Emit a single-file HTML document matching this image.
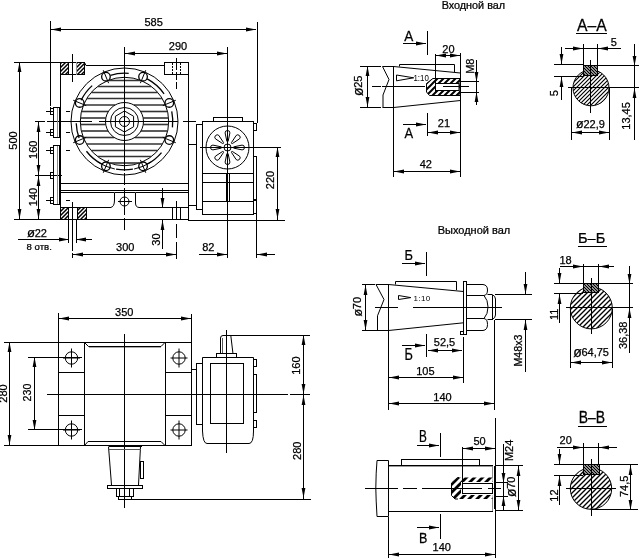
<!DOCTYPE html>
<html><head><meta charset="utf-8"><style>
html,body{margin:0;padding:0;background:#fff;width:639px;height:558px;overflow:hidden}
svg{display:block}
text{font-family:"Liberation Sans",sans-serif;fill:#000;stroke:#000;stroke-width:0.25px;-webkit-font-smoothing:antialiased}
svg{will-change:transform}
</style></head><body>
<svg width="639" height="558" viewBox="0 0 639 558">
<defs>
<pattern id="hF" patternUnits="userSpaceOnUse" width="4" height="4"><rect width="4" height="4" fill="#fff"/><path d="M0,4 L4,0 M-1,1 L1,-1 M3,5 L5,3" stroke="#000" stroke-width="1.5"/></pattern>
<pattern id="hC" patternUnits="userSpaceOnUse" width="4" height="4"><rect width="4" height="4" fill="#fff"/><path d="M0,4 L4,0 M-1,1 L1,-1 M3,5 L5,3" stroke="#000" stroke-width="1.15"/></pattern>
<pattern id="hC5" patternUnits="userSpaceOnUse" width="5" height="5"><rect width="5" height="5" fill="#fff"/><path d="M0,5 L5,0 M-1,1 L1,-1 M4,6 L6,4" stroke="#000" stroke-width="1.35"/></pattern>
<pattern id="hK" patternUnits="userSpaceOnUse" width="3" height="3"><rect width="3" height="3" fill="#fff"/><path d="M0,0 L3,3 M-1,2 L1,4 M2,-1 L4,1" stroke="#000" stroke-width="1.3"/></pattern>
<pattern id="hT" patternUnits="userSpaceOnUse" width="6" height="6"><rect width="6" height="6" fill="#fff"/><path d="M0,6 L6,0 M-1,1 L1,-1 M5,7 L7,5" stroke="#000" stroke-width="2.0"/></pattern>
<pattern id="hT2" patternUnits="userSpaceOnUse" width="8" height="8"><rect width="8" height="8" fill="#fff"/><path d="M0,8 L8,0 M-1,1 L1,-1 M7,9 L9,7" stroke="#000" stroke-width="2.8"/></pattern>
<clipPath id="cA"><circle cx="591" cy="87.8" r="18"/></clipPath>
<clipPath id="cB"><circle cx="591.3" cy="307.9" r="21"/></clipPath>
<clipPath id="cC"><circle cx="591" cy="488.6" r="20.7"/></clipPath>
</defs>
<rect width="639" height="558" fill="#fff"/>
<line x1="50.5" y1="21" x2="50.5" y2="106" stroke="#000" stroke-width="1" stroke-linecap="butt"/>
<line x1="50.5" y1="107" x2="50.5" y2="115" stroke="#000" stroke-width="1" stroke-linecap="butt"/>
<line x1="257.5" y1="22" x2="257.5" y2="123" stroke="#000" stroke-width="1" stroke-linecap="butt"/>
<line x1="51" y1="29.5" x2="256" y2="29.5" stroke="#000" stroke-width="1" stroke-linecap="butt"/>
<polygon points="51,29.5 61,27.6 61,31.4" fill="#000"/>
<polygon points="256,29.5 246,27.6 246,31.4" fill="#000"/>
<text transform="translate(144.44,26) scale(1.000,1)" font-size="11.00">585</text>
<line x1="124.5" y1="47" x2="124.5" y2="59" stroke="#000" stroke-width="1" stroke-linecap="butt"/>
<line x1="227.5" y1="47" x2="227.5" y2="117" stroke="#000" stroke-width="1" stroke-linecap="butt"/>
<line x1="125" y1="53.5" x2="228" y2="53.5" stroke="#000" stroke-width="1" stroke-linecap="butt"/>
<polygon points="125,53.5 135,51.6 135,55.4" fill="#000"/>
<polygon points="227,53.5 217,51.6 217,55.4" fill="#000"/>
<text transform="translate(168.76,50) scale(1.000,1)" font-size="11.00">290</text>
<line x1="14" y1="62.5" x2="60" y2="62.5" stroke="#000" stroke-width="1" stroke-linecap="butt"/>
<line x1="19.5" y1="62" x2="19.5" y2="220" stroke="#000" stroke-width="1" stroke-linecap="butt"/>
<polygon points="19.5,62 17.6,72 21.4,72" fill="#000"/>
<polygon points="19.5,219 17.6,209 21.4,209" fill="#000"/>
<text transform="translate(16.6,149.74) rotate(-90) scale(1.000,1)" font-size="11.00">500</text>
<line x1="14" y1="219.5" x2="189" y2="219.5" stroke="#000" stroke-width="1" stroke-linecap="butt"/>
<line x1="188" y1="220.5" x2="285" y2="220.5" stroke="#000" stroke-width="1" stroke-linecap="butt"/>
<line x1="38.5" y1="121" x2="38.5" y2="220" stroke="#000" stroke-width="1" stroke-linecap="butt"/>
<polygon points="38.5,122 36.6,132 40.4,132" fill="#000"/>
<polygon points="38.5,175 36.6,165 40.4,165" fill="#000"/>
<polygon points="38.5,176 36.6,186 40.4,186" fill="#000"/>
<polygon points="38.5,219 36.6,209 40.4,209" fill="#000"/>
<line x1="35" y1="175.5" x2="62" y2="175.5" stroke="#000" stroke-width="1" stroke-linecap="butt"/>
<text transform="translate(37.2,158.98) rotate(-90) scale(1.000,1)" font-size="11.00">160</text>
<text transform="translate(37.2,206.23) rotate(-90) scale(1.000,1)" font-size="11.00">140</text>
<line x1="35" y1="121.5" x2="45" y2="121.5" stroke="#000" stroke-width="1" stroke-linecap="butt"/>
<line x1="47" y1="121.5" x2="92" y2="121.5" stroke="#000" stroke-width="1" stroke-linecap="butt"/>
<line x1="99" y1="121.5" x2="178" y2="121.5" stroke="#000" stroke-width="1" stroke-linecap="butt"/>
<line x1="183" y1="121.5" x2="196" y2="121.5" stroke="#000" stroke-width="1" stroke-linecap="butt"/>
<line x1="124.5" y1="47" x2="124.5" y2="171" stroke="#000" stroke-width="1" stroke-linecap="butt"/>
<line x1="124.5" y1="173" x2="124.5" y2="230" stroke="#000" stroke-width="1" stroke-dasharray="12 3" stroke-linecap="butt"/>
<rect x="60" y="62" width="9" height="13" fill="url(#hF)"/>
<rect x="76" y="62" width="9" height="13" fill="url(#hF)"/>
<rect x="60.5" y="62.5" width="24" height="12" fill="none" stroke="#000" stroke-width="1"/>
<line x1="68.5" y1="62" x2="68.5" y2="75" stroke="#000" stroke-width="1" stroke-linecap="butt"/>
<line x1="76.5" y1="62" x2="76.5" y2="75" stroke="#000" stroke-width="1" stroke-linecap="butt"/>
<rect x="69" y="63" width="7" height="11" fill="#fff"/>
<line x1="68.5" y1="62" x2="68.5" y2="75" stroke="#000" stroke-width="1" stroke-linecap="butt"/>
<line x1="76.5" y1="62" x2="76.5" y2="75" stroke="#999" stroke-width="1" stroke-linecap="butt"/>
<line x1="72.5" y1="54" x2="72.5" y2="82" stroke="#000" stroke-width="1" stroke-linecap="butt"/>
<line x1="60.5" y1="62" x2="60.5" y2="208" stroke="#000" stroke-width="1" stroke-linecap="butt"/>
<path d="M84.5,62.5 L86,65.5" fill="none" stroke="#000" stroke-width="1" />
<line x1="86" y1="65.5" x2="164" y2="65.5" stroke="#000" stroke-width="1" stroke-linecap="butt"/>
<rect x="164.5" y="62.5" width="24" height="12" fill="none" stroke="#000" stroke-width="1"/>
<line x1="172.5" y1="63" x2="172.5" y2="74" stroke="#000" stroke-width="1" stroke-dasharray="2 1" stroke-linecap="butt"/>
<line x1="180.5" y1="63" x2="180.5" y2="74" stroke="#000" stroke-width="1" stroke-dasharray="2 1" stroke-linecap="butt"/>
<line x1="176.5" y1="58" x2="176.5" y2="70" stroke="#000" stroke-width="1" stroke-linecap="butt"/>
<line x1="176.5" y1="72" x2="176.5" y2="80" stroke="#000" stroke-width="1" stroke-linecap="butt"/>
<line x1="176.5" y1="82" x2="176.5" y2="89" stroke="#000" stroke-width="1" stroke-linecap="butt"/>
<line x1="188.5" y1="74" x2="188.5" y2="221" stroke="#000" stroke-width="1" stroke-linecap="butt"/>
<circle cx="124.5" cy="121.5" r="53.5" fill="none" stroke="#000" stroke-width="1"/>
<circle cx="124.5" cy="121.5" r="44.2" fill="none" stroke="#000" stroke-width="1"/>
<line x1="108.53" y1="80.5" x2="140.47" y2="80.5" stroke="#333" stroke-width="1.6" stroke-linecap="butt"/>
<line x1="97.84" y1="86.5" x2="151.16" y2="86.5" stroke="#333" stroke-width="1.6" stroke-linecap="butt"/>
<line x1="91.41" y1="92.5" x2="157.59" y2="92.5" stroke="#333" stroke-width="1.6" stroke-linecap="butt"/>
<line x1="86.99" y1="98.5" x2="162.01" y2="98.5" stroke="#333" stroke-width="1.6" stroke-linecap="butt"/>
<line x1="83.71" y1="105" x2="115.08" y2="105" stroke="#333" stroke-width="1.6" stroke-linecap="butt"/>
<line x1="133.92" y1="105" x2="165.29" y2="105" stroke="#333" stroke-width="1.6" stroke-linecap="butt"/>
<line x1="81.65" y1="111.5" x2="108.34" y2="111.5" stroke="#333" stroke-width="1.6" stroke-linecap="butt"/>
<line x1="140.66" y1="111.5" x2="167.35" y2="111.5" stroke="#333" stroke-width="1.6" stroke-linecap="butt"/>
<line x1="80.64" y1="118" x2="105.83" y2="118" stroke="#333" stroke-width="1.6" stroke-linecap="butt"/>
<line x1="143.17" y1="118" x2="168.36" y2="118" stroke="#333" stroke-width="1.6" stroke-linecap="butt"/>
<line x1="80.6" y1="124.5" x2="105.74" y2="124.5" stroke="#333" stroke-width="1.6" stroke-linecap="butt"/>
<line x1="143.26" y1="124.5" x2="168.4" y2="124.5" stroke="#333" stroke-width="1.6" stroke-linecap="butt"/>
<line x1="81.54" y1="131" x2="108.05" y2="131" stroke="#333" stroke-width="1.6" stroke-linecap="butt"/>
<line x1="140.95" y1="131" x2="167.46" y2="131" stroke="#333" stroke-width="1.6" stroke-linecap="butt"/>
<line x1="83.51" y1="137.5" x2="114.25" y2="137.5" stroke="#333" stroke-width="1.6" stroke-linecap="butt"/>
<line x1="134.75" y1="137.5" x2="165.49" y2="137.5" stroke="#333" stroke-width="1.6" stroke-linecap="butt"/>
<line x1="86.69" y1="144" x2="162.31" y2="144" stroke="#333" stroke-width="1.6" stroke-linecap="butt"/>
<line x1="91.41" y1="150.5" x2="157.59" y2="150.5" stroke="#333" stroke-width="1.6" stroke-linecap="butt"/>
<line x1="97.84" y1="156.5" x2="151.16" y2="156.5" stroke="#333" stroke-width="1.6" stroke-linecap="butt"/>
<line x1="109.88" y1="163" x2="139.12" y2="163" stroke="#333" stroke-width="1.6" stroke-linecap="butt"/>
<circle cx="143.06" cy="76.69" r="4.3" fill="#fff" stroke="#000" stroke-width="1.3"/>
<line x1="140.38" y1="83.16" x2="145.74" y2="70.22" stroke="#000" stroke-width="1" stroke-linecap="butt"/>
<circle cx="169.31" cy="102.94" r="4.3" fill="#fff" stroke="#000" stroke-width="1.3"/>
<line x1="162.84" y1="105.62" x2="175.78" y2="100.26" stroke="#000" stroke-width="1" stroke-linecap="butt"/>
<circle cx="169.31" cy="140.06" r="4.3" fill="#fff" stroke="#000" stroke-width="1.3"/>
<line x1="162.84" y1="137.38" x2="175.78" y2="142.74" stroke="#000" stroke-width="1" stroke-linecap="butt"/>
<circle cx="143.06" cy="166.31" r="4.3" fill="#fff" stroke="#000" stroke-width="1.3"/>
<line x1="140.38" y1="159.84" x2="145.74" y2="172.78" stroke="#000" stroke-width="1" stroke-linecap="butt"/>
<path d="M151.27,161.94 A48.5,48.5 0 0 1 134.17,169.03" fill="none" stroke="#000" stroke-width="1" />
<circle cx="105.94" cy="166.31" r="4.3" fill="#fff" stroke="#000" stroke-width="1.3"/>
<line x1="108.62" y1="159.84" x2="103.26" y2="172.78" stroke="#000" stroke-width="1" stroke-linecap="butt"/>
<path d="M114.83,169.03 A48.5,48.5 0 0 1 97.73,161.94" fill="none" stroke="#000" stroke-width="1" />
<circle cx="79.69" cy="140.06" r="4.3" fill="#fff" stroke="#000" stroke-width="1.3"/>
<line x1="86.16" y1="137.38" x2="73.22" y2="142.74" stroke="#000" stroke-width="1" stroke-linecap="butt"/>
<circle cx="79.69" cy="102.94" r="4.3" fill="#fff" stroke="#000" stroke-width="1.3"/>
<line x1="86.16" y1="105.62" x2="73.22" y2="100.26" stroke="#000" stroke-width="1" stroke-linecap="butt"/>
<circle cx="105.94" cy="76.69" r="4.3" fill="#fff" stroke="#000" stroke-width="1.3"/>
<line x1="108.62" y1="83.16" x2="103.26" y2="70.22" stroke="#000" stroke-width="1" stroke-linecap="butt"/>
<path d="M110.38,75.31 A48.3,48.3 0 0 1 128.71,73.38" fill="none" stroke="#000" stroke-width="1.3" />
<path d="M147.18,78.85 A48.3,48.3 0 0 1 164.07,93.8" fill="none" stroke="#000" stroke-width="1.3" />
<path d="M171.74,111.46 A48.3,48.3 0 0 1 172.44,127.39" fill="none" stroke="#000" stroke-width="1.3" />
<path d="M161.5,152.55 A48.3,48.3 0 0 1 147.18,164.15" fill="none" stroke="#000" stroke-width="1.3" />
<path d="M132.89,169.07 A48.3,48.3 0 0 1 116.11,169.07" fill="none" stroke="#000" stroke-width="1.3" />
<path d="M101.82,164.15 A48.3,48.3 0 0 1 86.44,151.24" fill="none" stroke="#000" stroke-width="1.3" />
<path d="M79.11,138.02 A48.3,48.3 0 0 1 76.23,123.19" fill="none" stroke="#000" stroke-width="1.3" />
<path d="M81.09,100.33 A48.3,48.3 0 0 1 92.18,85.61" fill="none" stroke="#000" stroke-width="1.3" />
<circle cx="124.5" cy="121.5" r="19" fill="#fff" stroke="#000" stroke-width="1"/>
<circle cx="124.5" cy="121.5" r="14" fill="none" stroke="#000" stroke-width="1"/>
<path d="M124.5,111 L133.59,116.25 L133.59,126.75 L124.5,132 L115.41,126.75 L115.41,116.25 Z" fill="none" stroke="#000" stroke-width="1" />
<circle cx="124.5" cy="121.5" r="5" fill="none" stroke="#000" stroke-width="1"/>
<line x1="124.5" y1="47" x2="124.5" y2="171" stroke="#000" stroke-width="1" stroke-linecap="butt"/>
<line x1="99" y1="121.5" x2="178" y2="121.5" stroke="#000" stroke-width="1" stroke-linecap="butt"/>
<rect x="53.5" y="107.5" width="6" height="30" fill="none" stroke="#000" stroke-width="1"/>
<rect x="53.5" y="145.5" width="6" height="59" fill="none" stroke="#000" stroke-width="1"/>
<line x1="57.5" y1="108" x2="57.5" y2="137" stroke="#888" stroke-width="1" stroke-linecap="butt"/>
<line x1="57.5" y1="146" x2="57.5" y2="204" stroke="#888" stroke-width="1" stroke-linecap="butt"/>
<line x1="46" y1="111.5" x2="54" y2="111.5" stroke="#000" stroke-width="1" stroke-linecap="butt"/>
<rect x="50.5" y="108.5" width="3" height="6" fill="none" stroke="#000" stroke-width="1"/>
<line x1="46" y1="132.5" x2="54" y2="132.5" stroke="#000" stroke-width="1" stroke-linecap="butt"/>
<rect x="50.5" y="129.5" width="3" height="6" fill="none" stroke="#000" stroke-width="1"/>
<line x1="46" y1="150.5" x2="54" y2="150.5" stroke="#000" stroke-width="1" stroke-linecap="butt"/>
<rect x="50.5" y="147.5" width="3" height="6" fill="none" stroke="#000" stroke-width="1"/>
<rect x="50.5" y="172.5" width="3" height="6" fill="none" stroke="#000" stroke-width="1"/>
<line x1="46" y1="200.5" x2="54" y2="200.5" stroke="#000" stroke-width="1" stroke-linecap="butt"/>
<rect x="50.5" y="197.5" width="3" height="6" fill="none" stroke="#000" stroke-width="1"/>
<line x1="66" y1="111.5" x2="70" y2="111.5" stroke="#000" stroke-width="1" stroke-linecap="butt"/>
<line x1="66" y1="132.5" x2="70" y2="132.5" stroke="#000" stroke-width="1" stroke-linecap="butt"/>
<line x1="66" y1="150.5" x2="70" y2="150.5" stroke="#000" stroke-width="1" stroke-linecap="butt"/>
<line x1="66" y1="200.5" x2="70" y2="200.5" stroke="#000" stroke-width="1" stroke-linecap="butt"/>
<line x1="60" y1="183.5" x2="189" y2="183.5" stroke="#000" stroke-width="1" stroke-linecap="butt"/>
<line x1="60" y1="190.5" x2="189" y2="190.5" stroke="#000" stroke-width="1" stroke-linecap="butt"/>
<line x1="60" y1="192.5" x2="114" y2="192.5" stroke="#000" stroke-width="1" stroke-linecap="butt"/>
<line x1="136" y1="192.5" x2="189" y2="192.5" stroke="#000" stroke-width="1" stroke-linecap="butt"/>
<path d="M110.5,207.5 Q114.5,207 114.5,200 L114.5,192.5 L135.5,192.5 L135.5,203 Q135.5,207.5 139.5,207.5" fill="none" stroke="#000" stroke-width="1" />
<line x1="60" y1="207.5" x2="111" y2="207.5" stroke="#000" stroke-width="1" stroke-linecap="butt"/>
<line x1="139" y1="207.5" x2="189" y2="207.5" stroke="#000" stroke-width="1" stroke-linecap="butt"/>
<circle cx="124.5" cy="201.5" r="4.5" fill="none" stroke="#000" stroke-width="1"/>
<line x1="118" y1="201.5" x2="132" y2="201.5" stroke="#000" stroke-width="1" stroke-linecap="butt"/>
<line x1="124.5" y1="195" x2="124.5" y2="209" stroke="#000" stroke-width="1" stroke-linecap="butt"/>
<rect x="60" y="207" width="9" height="13" fill="url(#hF)"/>
<rect x="77" y="207" width="10" height="13" fill="url(#hF)"/>
<rect x="60.5" y="207.5" width="8" height="12" fill="none" stroke="#000" stroke-width="1"/>
<rect x="77.5" y="207.5" width="9" height="12" fill="none" stroke="#000" stroke-width="1"/>
<line x1="68.5" y1="219" x2="68.5" y2="243" stroke="#000" stroke-width="1" stroke-linecap="butt"/>
<line x1="76.5" y1="219" x2="76.5" y2="243" stroke="#000" stroke-width="1" stroke-linecap="butt"/>
<line x1="72.5" y1="202" x2="72.5" y2="251" stroke="#000" stroke-width="1" stroke-linecap="butt"/>
<line x1="72.5" y1="253" x2="72.5" y2="258" stroke="#000" stroke-width="1" stroke-linecap="butt"/>
<line x1="172.5" y1="207" x2="172.5" y2="220" stroke="#000" stroke-width="1" stroke-linecap="butt"/>
<line x1="180.5" y1="207" x2="180.5" y2="220" stroke="#000" stroke-width="1" stroke-linecap="butt"/>
<line x1="176.5" y1="201" x2="176.5" y2="220" stroke="#000" stroke-width="1" stroke-linecap="butt"/>
<line x1="176.5" y1="224" x2="176.5" y2="238" stroke="#000" stroke-width="1" stroke-linecap="butt"/>
<line x1="176.5" y1="242" x2="176.5" y2="259" stroke="#000" stroke-width="1" stroke-linecap="butt"/>
<line x1="162.5" y1="188" x2="162.5" y2="208" stroke="#000" stroke-width="1" stroke-linecap="butt"/>
<polygon points="162.5,208 160.6,198 164.4,198" fill="#000"/>
<line x1="162.5" y1="220" x2="162.5" y2="249" stroke="#000" stroke-width="1" stroke-linecap="butt"/>
<polygon points="162.5,220 160.6,230 164.4,230" fill="#000"/>
<text transform="translate(160,245.73) rotate(-90) scale(1.000,1)" font-size="11.00">30</text>
<line x1="18" y1="239.5" x2="69" y2="239.5" stroke="#000" stroke-width="1" stroke-linecap="butt"/>
<polygon points="69,239.5 59,237.6 59,241.4" fill="#000"/>
<line x1="76" y1="239.5" x2="92" y2="239.5" stroke="#000" stroke-width="1" stroke-linecap="butt"/>
<polygon points="76,239.5 86,237.6 86,241.4" fill="#000"/>
<text transform="translate(27.08,236.9)" font-size="13">ø</text>
<text transform="translate(34.74,236.6)" font-size="11">22</text>
<text transform="translate(26.57,249.7) scale(1.021,1)" font-size="9.40">8 отв.</text>
<line x1="73" y1="254.5" x2="177" y2="254.5" stroke="#000" stroke-width="1" stroke-linecap="butt"/>
<polygon points="73,254.5 83,252.6 83,256.4" fill="#000"/>
<polygon points="176,254.5 166,252.6 166,256.4" fill="#000"/>
<text transform="translate(116.06,251.2) scale(1.000,1)" font-size="11.00">300</text>
<line x1="227.5" y1="200" x2="227.5" y2="258" stroke="#000" stroke-width="1" stroke-linecap="butt"/>
<line x1="256.5" y1="200" x2="256.5" y2="258" stroke="#000" stroke-width="1" stroke-linecap="butt"/>
<line x1="199" y1="254.5" x2="227" y2="254.5" stroke="#000" stroke-width="1" stroke-linecap="butt"/>
<polygon points="227,254.5 217,252.6 217,256.4" fill="#000"/>
<line x1="257" y1="254.5" x2="275" y2="254.5" stroke="#000" stroke-width="1" stroke-linecap="butt"/>
<polygon points="257,254.5 267,252.6 267,256.4" fill="#000"/>
<text transform="translate(202.17,251.2) scale(1.000,1)" font-size="11.00">82</text>
<line x1="249" y1="147.5" x2="281" y2="147.5" stroke="#000" stroke-width="1" stroke-linecap="butt"/>
<line x1="277.5" y1="147" x2="277.5" y2="221" stroke="#000" stroke-width="1" stroke-linecap="butt"/>
<polygon points="277.5,147 275.6,157 279.4,157" fill="#000"/>
<polygon points="277.5,219 275.6,209 279.4,209" fill="#000"/>
<text transform="translate(274,189.24) rotate(-90) scale(1.000,1)" font-size="11.00">220</text>
<rect x="202.5" y="121.5" width="51" height="93" fill="none" stroke="#000" stroke-width="1"/>
<rect x="196.5" y="124.5" width="6" height="85" fill="none" stroke="#000" stroke-width="1"/>
<rect x="213.5" y="117.5" width="29" height="4" fill="none" stroke="#000" stroke-width="1"/>
<circle cx="227.5" cy="147.5" r="21.5" fill="none" stroke="#000" stroke-width="1"/>
<circle cx="227.5" cy="147.5" r="3.5" fill="none" stroke="#000" stroke-width="1"/>
<path d="M228.2,141 L229.9,132.9 A2.4,2.4 0 0 0 225.1,132.9 L226.8,141 A0.7,0.7 0 0 0 228.2,141 Z" fill="none" stroke="#000" stroke-width="1" />
<path d="M232.59,143.4 L239.52,138.87 A2.4,2.4 0 0 0 236.13,135.48 L231.6,142.41 A0.7,0.7 0 0 0 232.59,143.4 Z" fill="none" stroke="#000" stroke-width="1" />
<path d="M234,148.2 L242.1,149.9 A2.4,2.4 0 0 0 242.1,145.1 L234,146.8 A0.7,0.7 0 0 0 234,148.2 Z" fill="none" stroke="#000" stroke-width="1" />
<path d="M231.6,152.59 L236.13,159.52 A2.4,2.4 0 0 0 239.52,156.13 L232.59,151.6 A0.7,0.7 0 0 0 231.6,152.59 Z" fill="none" stroke="#000" stroke-width="1" />
<path d="M226.8,154 L225.1,162.1 A2.4,2.4 0 0 0 229.9,162.1 L228.2,154 A0.7,0.7 0 0 0 226.8,154 Z" fill="none" stroke="#000" stroke-width="1" />
<path d="M222.41,151.6 L215.48,156.13 A2.4,2.4 0 0 0 218.87,159.52 L223.4,152.59 A0.7,0.7 0 0 0 222.41,151.6 Z" fill="none" stroke="#000" stroke-width="1" />
<path d="M221,146.8 L212.9,145.1 A2.4,2.4 0 0 0 212.9,149.9 L221,148.2 A0.7,0.7 0 0 0 221,146.8 Z" fill="none" stroke="#000" stroke-width="1" />
<path d="M223.4,142.41 L218.87,135.48 A2.4,2.4 0 0 0 215.48,138.87 L222.41,143.4 A0.7,0.7 0 0 0 223.4,142.41 Z" fill="none" stroke="#000" stroke-width="1" />
<line x1="203" y1="173.5" x2="253" y2="173.5" stroke="#000" stroke-width="1" stroke-linecap="butt"/>
<line x1="203" y1="182.5" x2="253" y2="182.5" stroke="#000" stroke-width="1" stroke-linecap="butt"/>
<line x1="203" y1="201.5" x2="253" y2="201.5" stroke="#000" stroke-width="1" stroke-linecap="butt"/>
<line x1="226.5" y1="173" x2="226.5" y2="201" stroke="#000" stroke-width="1" stroke-linecap="butt"/>
<line x1="229.5" y1="174" x2="229.5" y2="201" stroke="#000" stroke-width="1" stroke-linecap="butt"/>
<rect x="253.5" y="123.5" width="3" height="7" fill="none" stroke="#000" stroke-width="1"/>
<rect x="253.5" y="156.5" width="3" height="43" fill="none" stroke="#000" stroke-width="1"/>
<rect x="253.5" y="200.5" width="3" height="13" fill="none" stroke="#000" stroke-width="1"/>
<line x1="189" y1="144.5" x2="196" y2="144.5" stroke="#000" stroke-width="1" stroke-linecap="butt"/>
<line x1="189" y1="121.5" x2="196" y2="121.5" stroke="#000" stroke-width="1" stroke-linecap="butt"/>
<line x1="189" y1="205.5" x2="196" y2="205.5" stroke="#000" stroke-width="1" stroke-linecap="butt"/>
<line x1="200" y1="147.5" x2="266" y2="147.5" stroke="#000" stroke-width="1" stroke-linecap="butt"/>
<line x1="227.5" y1="116" x2="227.5" y2="258" stroke="#000" stroke-width="1" stroke-linecap="butt"/>
<line x1="59" y1="318.5" x2="192" y2="318.5" stroke="#000" stroke-width="1" stroke-linecap="butt"/>
<polygon points="59,318.5 69,316.6 69,320.4" fill="#000"/>
<polygon points="191,318.5 181,316.6 181,320.4" fill="#000"/>
<line x1="58.5" y1="313" x2="58.5" y2="342" stroke="#000" stroke-width="1" stroke-linecap="butt"/>
<line x1="191.5" y1="314" x2="191.5" y2="342" stroke="#000" stroke-width="1" stroke-linecap="butt"/>
<text transform="translate(115.06,315.5) scale(1.000,1)" font-size="11.00">350</text>
<line x1="4" y1="342.5" x2="59" y2="342.5" stroke="#000" stroke-width="1" stroke-linecap="butt"/>
<line x1="4" y1="445.5" x2="58" y2="445.5" stroke="#000" stroke-width="1" stroke-linecap="butt"/>
<line x1="9.5" y1="342" x2="9.5" y2="446" stroke="#000" stroke-width="1" stroke-linecap="butt"/>
<polygon points="9.5,342 7.6,352 11.4,352" fill="#000"/>
<polygon points="9.5,445 7.6,435 11.4,435" fill="#000"/>
<text transform="translate(7.2,402.74) rotate(-90) scale(1.000,1)" font-size="11.00">280</text>
<line x1="28" y1="357.5" x2="82" y2="357.5" stroke="#000" stroke-width="1" stroke-linecap="butt"/>
<line x1="28" y1="429.5" x2="82" y2="429.5" stroke="#000" stroke-width="1" stroke-linecap="butt"/>
<line x1="34.5" y1="357" x2="34.5" y2="430" stroke="#000" stroke-width="1" stroke-linecap="butt"/>
<polygon points="34.5,357 32.6,367 36.4,367" fill="#000"/>
<polygon points="34.5,430 32.6,420 36.4,420" fill="#000"/>
<text transform="translate(31.4,401.4) rotate(-90) scale(1.000,1)" font-size="10.60">230</text>
<rect x="58.5" y="342.5" width="26" height="103" fill="none" stroke="#000" stroke-width="1"/>
<line x1="59" y1="372.5" x2="84" y2="372.5" stroke="#000" stroke-width="1" stroke-linecap="butt"/>
<line x1="59" y1="415.5" x2="84" y2="415.5" stroke="#000" stroke-width="1" stroke-linecap="butt"/>
<rect x="165.5" y="342.5" width="26" height="103" fill="none" stroke="#000" stroke-width="1"/>
<line x1="166" y1="372.5" x2="191" y2="372.5" stroke="#000" stroke-width="1" stroke-linecap="butt"/>
<line x1="166" y1="415.5" x2="191" y2="415.5" stroke="#000" stroke-width="1" stroke-linecap="butt"/>
<circle cx="71.5" cy="358" r="6.2" fill="none" stroke="#000" stroke-width="1"/>
<line x1="63" y1="358" x2="80" y2="358" stroke="#000" stroke-width="1" stroke-linecap="butt"/>
<line x1="71.5" y1="348.5" x2="71.5" y2="367.5" stroke="#000" stroke-width="1" stroke-linecap="butt"/>
<circle cx="71.5" cy="430" r="6.2" fill="none" stroke="#000" stroke-width="1"/>
<line x1="63" y1="430" x2="80" y2="430" stroke="#000" stroke-width="1" stroke-linecap="butt"/>
<line x1="71.5" y1="420.5" x2="71.5" y2="439.5" stroke="#000" stroke-width="1" stroke-linecap="butt"/>
<circle cx="179" cy="358" r="6.2" fill="none" stroke="#000" stroke-width="1"/>
<line x1="170.5" y1="358" x2="187.5" y2="358" stroke="#000" stroke-width="1" stroke-linecap="butt"/>
<line x1="179" y1="348.5" x2="179" y2="367.5" stroke="#000" stroke-width="1" stroke-linecap="butt"/>
<circle cx="179" cy="430" r="6.2" fill="none" stroke="#000" stroke-width="1"/>
<line x1="170.5" y1="430" x2="187.5" y2="430" stroke="#000" stroke-width="1" stroke-linecap="butt"/>
<line x1="179" y1="420.5" x2="179" y2="439.5" stroke="#000" stroke-width="1" stroke-linecap="butt"/>
<path d="M84.5,342.5 L88.5,346.5 L161,346.5 L165,342.5" fill="none" stroke="#000" stroke-width="1" />
<line x1="89" y1="347.5" x2="161" y2="347.5" stroke="#aaa" stroke-width="1" stroke-linecap="butt"/>
<path d="M84.5,445.5 L88,441.5 L161,441.5 L165,445.5" fill="none" stroke="#000" stroke-width="1" />
<line x1="84" y1="342.5" x2="166" y2="342.5" stroke="#000" stroke-width="1" stroke-linecap="butt"/>
<line x1="84" y1="445.5" x2="166" y2="445.5" stroke="#000" stroke-width="1" stroke-linecap="butt"/>
<line x1="124.5" y1="334" x2="124.5" y2="508" stroke="#000" stroke-width="1" stroke-linecap="butt"/>
<line x1="47" y1="394.5" x2="288" y2="394.5" stroke="#000" stroke-width="1" stroke-linecap="butt"/>
<line x1="290" y1="394.5" x2="310" y2="394.5" stroke="#000" stroke-width="1" stroke-linecap="butt"/>
<path d="M108.5,446.5 L111.5,485 M140.5,446.5 L138.5,485" fill="none" stroke="#000" stroke-width="1" />
<line x1="109" y1="446.5" x2="142" y2="446.5" stroke="#000" stroke-width="1" stroke-linecap="butt"/>
<line x1="109" y1="449.5" x2="141" y2="449.5" stroke="#555" stroke-width="1" stroke-linecap="butt"/>
<rect x="107.5" y="485.5" width="35" height="3" fill="none" stroke="#000" stroke-width="1"/>
<rect x="116.5" y="488.5" width="17" height="8" fill="none" stroke="#000" stroke-width="1"/>
<rect x="118.5" y="496.5" width="13" height="3" fill="none" stroke="#000" stroke-width="1"/>
<line x1="119.5" y1="489" x2="119.5" y2="497" stroke="#000" stroke-width="1" stroke-linecap="butt"/>
<line x1="129.5" y1="489" x2="129.5" y2="497" stroke="#000" stroke-width="1" stroke-linecap="butt"/>
<rect x="140.5" y="461.5" width="3" height="17" fill="none" stroke="#000" stroke-width="1"/>
<line x1="132" y1="499.5" x2="311" y2="499.5" stroke="#000" stroke-width="1" stroke-linecap="butt"/>
<path d="M202.5,357.5 L253.5,357.5 L253.5,431 Q253.5,443.5 249,443.5 L207,443.5 Q203,443.5 202.5,431 Z" fill="none" stroke="#000" stroke-width="1" />
<rect x="210.5" y="363.5" width="33" height="60" fill="none" stroke="#000" stroke-width="1"/>
<rect x="196.5" y="363.5" width="6" height="61" fill="none" stroke="#000" stroke-width="1"/>
<line x1="191" y1="369.5" x2="197" y2="369.5" stroke="#000" stroke-width="1" stroke-linecap="butt"/>
<rect x="253.5" y="359.5" width="3" height="7" fill="none" stroke="#000" stroke-width="1"/>
<rect x="253.5" y="374.5" width="3" height="38" fill="none" stroke="#000" stroke-width="1"/>
<rect x="253.5" y="420.5" width="3" height="7" fill="none" stroke="#000" stroke-width="1"/>
<path d="M220.5,353 L220.5,338 Q220.5,335.5 223,335.5 L230.8,335.5 L232.9,353" fill="none" stroke="#000" stroke-width="1" />
<line x1="222.5" y1="338" x2="222.5" y2="353" stroke="#555" stroke-width="1" stroke-linecap="butt"/>
<line x1="216" y1="353.5" x2="237" y2="353.5" stroke="#000" stroke-width="1" stroke-linecap="butt"/>
<line x1="216.5" y1="353" x2="216.5" y2="358" stroke="#000" stroke-width="1" stroke-linecap="butt"/>
<line x1="236.5" y1="353" x2="236.5" y2="358" stroke="#000" stroke-width="1" stroke-linecap="butt"/>
<line x1="226.5" y1="330" x2="226.5" y2="453" stroke="#000" stroke-width="1" stroke-linecap="butt"/>
<line x1="227" y1="335.5" x2="310" y2="335.5" stroke="#000" stroke-width="1" stroke-linecap="butt"/>
<line x1="303.5" y1="335" x2="303.5" y2="499" stroke="#000" stroke-width="1" stroke-linecap="butt"/>
<polygon points="303.5,335 301.6,345 305.4,345" fill="#000"/>
<polygon points="303.5,394 301.6,384 305.4,384" fill="#000"/>
<polygon points="303.5,395 301.6,405 305.4,405" fill="#000"/>
<polygon points="303.5,498 301.6,488 305.4,488" fill="#000"/>
<text transform="translate(300.2,374.78) rotate(-90) scale(1.000,1)" font-size="11.00">160</text>
<text transform="translate(300.6,459.99) rotate(-90) scale(1.000,1)" font-size="11.00">280</text>
<text transform="translate(441.63,9.4) scale(1.041,1)" font-size="10.40">Входной вал</text>
<text transform="translate(404.25,40.5) scale(0.943,1)" font-size="14.35">A</text>
<line x1="403" y1="43.5" x2="426" y2="43.5" stroke="#000" stroke-width="1" stroke-linecap="butt"/>
<polygon points="426,43.5 416,41.6 416,45.4" fill="#000"/>
<line x1="427.5" y1="31" x2="427.5" y2="55" stroke="#000" stroke-width="1" stroke-linecap="butt"/>
<text transform="translate(404.5,138.4) scale(0.920,1)" font-size="14.06">A</text>
<line x1="403" y1="124.5" x2="426" y2="124.5" stroke="#000" stroke-width="1" stroke-linecap="butt"/>
<polygon points="426,124.5 416,122.6 416,126.4" fill="#000"/>
<line x1="427.5" y1="113" x2="427.5" y2="136" stroke="#000" stroke-width="1" stroke-linecap="butt"/>
<path d="M399.5,66.5 L399.5,64.5 L454.5,64.5 L454.5,72" fill="none" stroke="#000" stroke-width="1" />
<path d="M382.5,66.5 L393.5,66.5 L460.5,73 L460.5,100.5 L393.5,107.5 L382.5,107.5" fill="none" stroke="#000" stroke-width="1" />
<path d="M382.5,66.5 L389,79.5 L383,95 L383,107.5" fill="none" stroke="#000" stroke-width="1" />
<line x1="393.5" y1="66" x2="393.5" y2="177" stroke="#000" stroke-width="1" stroke-linecap="butt"/>
<line x1="372" y1="86.5" x2="381" y2="86.5" stroke="#000" stroke-width="1" stroke-linecap="butt"/>
<line x1="382" y1="86.5" x2="425" y2="86.5" stroke="#000" stroke-width="1" stroke-linecap="butt"/>
<line x1="443" y1="86.5" x2="469" y2="86.5" stroke="#000" stroke-width="1" stroke-linecap="butt"/>
<path d="M432.8,78.5 L460,78.5 L460,95.5 L429.5,95.5 L426.5,92 L426.5,83.5 Z" fill="url(#hT)" stroke="#000"/>
<rect x="435.5" y="83.5" width="23.5" height="7" fill="#fff" stroke="#000"/>
<line x1="443" y1="86.5" x2="469" y2="86.5" stroke="#000" stroke-width="1" stroke-linecap="butt"/>
<path d="M396.5,75 L413.7,77.8 L396.5,80.8 Z" fill="none" stroke="#000" stroke-width="1" />
<text transform="translate(413.41,80.7) scale(0.838,1)" font-size="9.43" style="stroke:none">1:10</text>
<line x1="360" y1="66.5" x2="381" y2="66.5" stroke="#000" stroke-width="1" stroke-linecap="butt"/>
<line x1="360" y1="107.5" x2="381" y2="107.5" stroke="#000" stroke-width="1" stroke-linecap="butt"/>
<line x1="367.5" y1="66" x2="367.5" y2="108" stroke="#000" stroke-width="1" stroke-linecap="butt"/>
<polygon points="367.5,66 365.6,76 369.4,76" fill="#000"/>
<polygon points="367.5,107 365.6,97 369.4,97" fill="#000"/>
<text transform="translate(362.9,96.03) rotate(-90)" font-size="14">ø</text>
<text transform="translate(361.6,87.79) rotate(-90)" font-size="11">25</text>
<line x1="435.5" y1="54" x2="435.5" y2="93" stroke="#000" stroke-width="1" stroke-linecap="butt"/>
<line x1="460.5" y1="53" x2="460.5" y2="73" stroke="#000" stroke-width="1" stroke-linecap="butt"/>
<line x1="436" y1="55.5" x2="460" y2="55.5" stroke="#000" stroke-width="1" stroke-linecap="butt"/>
<polygon points="436,55.5 446,53.6 446,57.4" fill="#000"/>
<polygon points="460,55.5 450,53.6 450,57.4" fill="#000"/>
<text transform="translate(442.31,52.5) scale(1.000,1)" font-size="11.00">20</text>
<line x1="461" y1="81.5" x2="479" y2="81.5" stroke="#000" stroke-width="1" stroke-linecap="butt"/>
<line x1="461" y1="92.5" x2="479" y2="92.5" stroke="#000" stroke-width="1" stroke-linecap="butt"/>
<line x1="476.5" y1="60" x2="476.5" y2="105" stroke="#000" stroke-width="1" stroke-linecap="butt"/>
<polygon points="476.5,82 474.6,72 478.4,72" fill="#000"/>
<polygon points="476.5,92 474.6,102 478.4,102" fill="#000"/>
<text transform="translate(473.5,73.81) rotate(-90) scale(1.000,1)" font-size="11.00">M8</text>
<line x1="460.5" y1="100" x2="460.5" y2="177" stroke="#000" stroke-width="1" stroke-linecap="butt"/>
<line x1="428" y1="132.5" x2="460" y2="132.5" stroke="#000" stroke-width="1" stroke-linecap="butt"/>
<polygon points="428,132.5 438,130.6 438,134.4" fill="#000"/>
<polygon points="460,132.5 450,130.6 450,134.4" fill="#000"/>
<text transform="translate(437.87,127) scale(1.000,1)" font-size="11.00">21</text>
<line x1="394" y1="171.5" x2="460" y2="171.5" stroke="#000" stroke-width="1" stroke-linecap="butt"/>
<polygon points="394,171.5 404,169.6 404,173.4" fill="#000"/>
<polygon points="460,171.5 450,169.6 450,173.4" fill="#000"/>
<text transform="translate(419.71,167.7) scale(1.000,1)" font-size="11.00">42</text>
<text transform="translate(577.1,30.8) scale(0.968,1)" font-size="16.23">A–A</text>
<line x1="576" y1="33.5" x2="607" y2="33.5" stroke="#000" stroke-width="1" stroke-linecap="butt"/>
<g clip-path="url(#cA)"><rect x="570" y="68" width="42" height="40" fill="url(#hC)"/></g>
<circle cx="591" cy="87.8" r="18" fill="none" stroke="#000" stroke-width="1"/>
<rect x="583.5" y="65" width="14.5" height="11" fill="url(#hK)"/>
<rect x="583.5" y="65.5" width="14" height="10" fill="none" stroke="#000" stroke-width="1"/>
<line x1="583.5" y1="44" x2="583.5" y2="65" stroke="#000" stroke-width="1" stroke-linecap="butt"/>
<line x1="597.5" y1="44" x2="597.5" y2="65" stroke="#000" stroke-width="1" stroke-linecap="butt"/>
<line x1="565" y1="48.5" x2="621" y2="48.5" stroke="#000" stroke-width="1" stroke-linecap="butt"/>
<polygon points="583,48.5 573,46.6 573,50.4" fill="#000"/>
<polygon points="598,48.5 608,46.6 608,50.4" fill="#000"/>
<text transform="translate(610.7,45.5) scale(1.000,1)" font-size="11.00">5</text>
<line x1="554" y1="64.5" x2="583" y2="64.5" stroke="#000" stroke-width="1" stroke-linecap="butt"/>
<line x1="554" y1="76.5" x2="583" y2="76.5" stroke="#000" stroke-width="1" stroke-linecap="butt"/>
<line x1="561.5" y1="47" x2="561.5" y2="64" stroke="#000" stroke-width="1" stroke-linecap="butt"/>
<polygon points="561.5,64 559.6,54 563.4,54" fill="#000"/>
<line x1="561.5" y1="77" x2="561.5" y2="100" stroke="#000" stroke-width="1" stroke-linecap="butt"/>
<polygon points="561.5,77 559.6,87 563.4,87" fill="#000"/>
<text transform="translate(558.3,96.15) rotate(-90) scale(1.000,1)" font-size="11.00">5</text>
<line x1="568" y1="87.5" x2="613" y2="87.5" stroke="#000" stroke-width="1" stroke-linecap="butt"/>
<line x1="612" y1="87.5" x2="639" y2="87.5" stroke="#000" stroke-width="1" stroke-linecap="butt"/>
<line x1="590.5" y1="60" x2="590.5" y2="113" stroke="#000" stroke-width="1" stroke-linecap="butt"/>
<line x1="598" y1="65.5" x2="639" y2="65.5" stroke="#000" stroke-width="1" stroke-linecap="butt"/>
<line x1="634.5" y1="44" x2="634.5" y2="140" stroke="#000" stroke-width="1" stroke-linecap="butt"/>
<polygon points="634.5,66 632.6,56 636.4,56" fill="#000"/>
<polygon points="634.5,88 632.6,98 636.4,98" fill="#000"/>
<text transform="translate(630.4,129.74) rotate(-90) scale(1.000,1)" font-size="11.00">13,45</text>
<line x1="571.5" y1="88" x2="571.5" y2="140" stroke="#000" stroke-width="1" stroke-linecap="butt"/>
<line x1="609.5" y1="88" x2="609.5" y2="140" stroke="#000" stroke-width="1" stroke-linecap="butt"/>
<line x1="572" y1="132.5" x2="609" y2="132.5" stroke="#000" stroke-width="1" stroke-linecap="butt"/>
<polygon points="572,132.5 582,130.6 582,134.4" fill="#000"/>
<polygon points="609,132.5 599,130.6 599,134.4" fill="#000"/>
<text transform="translate(576.06,128)" font-size="12.5">ø</text>
<text transform="translate(583.43,127.7)" font-size="11">22,9</text>
<text transform="translate(437.72,233.9) scale(1.019,1)" font-size="10.80">Выходной вал</text>
<text transform="translate(404.47,259.8) scale(0.845,1)" font-size="15.22">Б</text>
<line x1="402" y1="263.5" x2="425" y2="263.5" stroke="#000" stroke-width="1" stroke-linecap="butt"/>
<polygon points="425,263.5 415,261.6 415,265.4" fill="#000"/>
<line x1="426.5" y1="252" x2="426.5" y2="276" stroke="#000" stroke-width="1" stroke-linecap="butt"/>
<text transform="translate(404.48,359.7) scale(0.801,1)" font-size="15.94">Б</text>
<line x1="402" y1="345.5" x2="425" y2="345.5" stroke="#000" stroke-width="1" stroke-linecap="butt"/>
<polygon points="425,345.5 415,343.6 415,347.4" fill="#000"/>
<line x1="426.5" y1="334" x2="426.5" y2="357" stroke="#000" stroke-width="1" stroke-linecap="butt"/>
<path d="M395.5,284.5 L395.5,281.5 L456.5,281.5 L456.5,290" fill="none" stroke="#000" stroke-width="1" />
<path d="M388.5,284.5 L463.5,291.5 M388.5,330.5 L463.5,322.8" fill="none" stroke="#000" stroke-width="1" />
<line x1="388.5" y1="284" x2="388.5" y2="331" stroke="#000" stroke-width="1" stroke-linecap="butt"/>
<path d="M376,284.5 L384,299.5 L377.5,315.8 L377.5,330.5" fill="none" stroke="#000" stroke-width="1" />
<line x1="362" y1="284.5" x2="375" y2="284.5" stroke="#000" stroke-width="1" stroke-linecap="butt"/>
<line x1="376" y1="284.5" x2="389" y2="284.5" stroke="#000" stroke-width="1" stroke-linecap="butt"/>
<line x1="362" y1="330.5" x2="389" y2="330.5" stroke="#000" stroke-width="1" stroke-linecap="butt"/>
<line x1="365.5" y1="285" x2="365.5" y2="331" stroke="#000" stroke-width="1" stroke-linecap="butt"/>
<polygon points="365.5,285 363.6,295 367.4,295" fill="#000"/>
<polygon points="365.5,330 363.6,320 367.4,320" fill="#000"/>
<text transform="translate(361.9,316.5) rotate(-90)" font-size="12.5">ø</text>
<text transform="translate(360.9,309.14) rotate(-90)" font-size="11">70</text>
<line x1="375" y1="307.5" x2="398" y2="307.5" stroke="#000" stroke-width="1" stroke-linecap="butt"/>
<line x1="413" y1="307.5" x2="502" y2="307.5" stroke="#000" stroke-width="1" stroke-linecap="butt"/>
<path d="M398.5,295.5 L410.8,297.6 L398.5,299.5 Z" fill="none" stroke="#000" stroke-width="1" />
<text x="413.4" y="300.9" font-size="8" letter-spacing="0.45" style="stroke:none">1:10</text>
<rect x="463.5" y="281.5" width="3" height="53" fill="none" stroke="#000" stroke-width="1"/>
<rect x="460.5" y="331.5" width="3" height="3" fill="none" stroke="#000" stroke-width="1"/>
<path d="M466.5,284.5 L483,284.5 Q487.5,285 487.5,290 Q487.5,295 484,295.5 L466.5,295.5" fill="none" stroke="#000" stroke-width="1" />
<path d="M484,295.5 Q488,300 488,307 Q488,314 484,318.5" fill="none" stroke="#000" stroke-width="1" />
<path d="M466.5,318.5 L484,318.5 Q487.5,319 487.5,324.5 Q487.5,330 483,330.5 L466.5,330.5" fill="none" stroke="#000" stroke-width="1" />
<line x1="466.5" y1="284" x2="466.5" y2="331" stroke="#000" stroke-width="1" stroke-linecap="butt"/>
<path d="M487.5,294.5 L492,294.5 Q495.5,296 495.5,299 L495.5,315 Q495.5,318 492,319.5 L487.5,319.5" fill="none" stroke="#000" stroke-width="1" />
<line x1="492.5" y1="295" x2="492.5" y2="320" stroke="#000" stroke-width="1" stroke-linecap="butt"/>
<line x1="495" y1="294.5" x2="532" y2="294.5" stroke="#000" stroke-width="1" stroke-linecap="butt"/>
<line x1="495" y1="319.5" x2="532" y2="319.5" stroke="#000" stroke-width="1" stroke-linecap="butt"/>
<line x1="525.5" y1="272" x2="525.5" y2="294" stroke="#000" stroke-width="1" stroke-linecap="butt"/>
<polygon points="525.5,294 523.6,284 527.4,284" fill="#000"/>
<line x1="525.5" y1="320" x2="525.5" y2="372" stroke="#000" stroke-width="1" stroke-linecap="butt"/>
<polygon points="525.5,320 523.6,330 527.4,330" fill="#000"/>
<text transform="translate(522,366.61) rotate(-90) scale(1.000,1)" font-size="10.70">M48x3</text>
<line x1="494.5" y1="320" x2="494.5" y2="410" stroke="#000" stroke-width="1" stroke-linecap="butt"/>
<line x1="388.5" y1="331" x2="388.5" y2="410" stroke="#000" stroke-width="1" stroke-linecap="butt"/>
<line x1="463.5" y1="337" x2="463.5" y2="383" stroke="#000" stroke-width="1" stroke-linecap="butt"/>
<line x1="428" y1="350.5" x2="462" y2="350.5" stroke="#000" stroke-width="1" stroke-linecap="butt"/>
<polygon points="428,350.5 438,348.6 438,352.4" fill="#000"/>
<polygon points="462,350.5 452,348.6 452,352.4" fill="#000"/>
<text transform="translate(433.8,345.5) scale(1.000,1)" font-size="11.00">52,5</text>
<line x1="389" y1="377.5" x2="463" y2="377.5" stroke="#000" stroke-width="1" stroke-linecap="butt"/>
<polygon points="389,377.5 399,375.6 399,379.4" fill="#000"/>
<polygon points="463,377.5 453,375.6 453,379.4" fill="#000"/>
<text transform="translate(416.25,374.8) scale(1.000,1)" font-size="11.00">105</text>
<line x1="389" y1="403.5" x2="494" y2="403.5" stroke="#000" stroke-width="1" stroke-linecap="butt"/>
<polygon points="389,403.5 399,401.6 399,405.4" fill="#000"/>
<polygon points="494,403.5 484,401.6 484,405.4" fill="#000"/>
<text transform="translate(433.32,400.8) scale(1.000,1)" font-size="11.00">140</text>
<text transform="translate(578.03,242.5) scale(0.967,1)" font-size="15.07">Б–Б</text>
<line x1="578" y1="246.5" x2="607" y2="246.5" stroke="#000" stroke-width="1" stroke-linecap="butt"/>
<g clip-path="url(#cB)"><rect x="568" y="286" width="46" height="46" fill="url(#hC5)"/></g>
<circle cx="591.3" cy="307.9" r="21" fill="none" stroke="#000" stroke-width="1"/>
<rect x="583.5" y="283.5" width="15.5" height="9.5" fill="url(#hK)"/>
<rect x="583.5" y="283.5" width="15" height="9" fill="none" stroke="#000" stroke-width="1"/>
<line x1="583.5" y1="264" x2="583.5" y2="283" stroke="#000" stroke-width="1" stroke-linecap="butt"/>
<line x1="598.5" y1="264" x2="598.5" y2="283" stroke="#000" stroke-width="1" stroke-linecap="butt"/>
<line x1="560" y1="266.5" x2="614" y2="266.5" stroke="#000" stroke-width="1" stroke-linecap="butt"/>
<polygon points="583,266.5 573,264.6 573,268.4" fill="#000"/>
<polygon points="599,266.5 609,264.6 609,268.4" fill="#000"/>
<text transform="translate(559.45,263.6) scale(1.000,1)" font-size="11.00">18</text>
<line x1="554" y1="283.5" x2="583" y2="283.5" stroke="#000" stroke-width="1" stroke-linecap="butt"/>
<line x1="554" y1="293.5" x2="583" y2="293.5" stroke="#000" stroke-width="1" stroke-linecap="butt"/>
<line x1="559.5" y1="268" x2="559.5" y2="283" stroke="#000" stroke-width="1" stroke-linecap="butt"/>
<polygon points="559.5,283 557.6,273 561.4,273" fill="#000"/>
<line x1="559.5" y1="294" x2="559.5" y2="323" stroke="#000" stroke-width="1" stroke-linecap="butt"/>
<polygon points="559.5,294 557.6,304 561.4,304" fill="#000"/>
<text transform="translate(557.7,320.01) rotate(-90) scale(1.000,1)" font-size="11.00">11</text>
<line x1="566" y1="307.5" x2="633" y2="307.5" stroke="#000" stroke-width="1" stroke-linecap="butt"/>
<line x1="599" y1="283.5" x2="633" y2="283.5" stroke="#000" stroke-width="1" stroke-linecap="butt"/>
<line x1="591.5" y1="278" x2="591.5" y2="334" stroke="#000" stroke-width="1" stroke-linecap="butt"/>
<line x1="629.5" y1="266" x2="629.5" y2="353" stroke="#000" stroke-width="1" stroke-linecap="butt"/>
<polygon points="629.5,284 627.6,274 631.4,274" fill="#000"/>
<polygon points="629.5,308 627.6,318 631.4,318" fill="#000"/>
<text transform="translate(626.6,349.1) rotate(-90) scale(1.000,1)" font-size="11.00">36,38</text>
<line x1="570.5" y1="309" x2="570.5" y2="368" stroke="#000" stroke-width="1" stroke-linecap="butt"/>
<line x1="612.5" y1="309" x2="612.5" y2="368" stroke="#000" stroke-width="1" stroke-linecap="butt"/>
<line x1="571" y1="362.5" x2="612" y2="362.5" stroke="#000" stroke-width="1" stroke-linecap="butt"/>
<polygon points="571,362.5 581,360.6 581,364.4" fill="#000"/>
<polygon points="612,362.5 602,360.6 602,364.4" fill="#000"/>
<text transform="translate(573.17,357.3)" font-size="14">ø</text>
<text transform="translate(581.42,356)" font-size="11">64,75</text>
<text transform="translate(418.96,441.8) scale(0.752,1)" font-size="15.65">В</text>
<line x1="417" y1="445.5" x2="439" y2="445.5" stroke="#000" stroke-width="1" stroke-linecap="butt"/>
<polygon points="439,445.5 429,443.6 429,447.4" fill="#000"/>
<line x1="440.5" y1="433" x2="440.5" y2="457" stroke="#000" stroke-width="1" stroke-linecap="butt"/>
<text transform="translate(418.9,542.9) scale(0.815,1)" font-size="15.36">В</text>
<line x1="417" y1="527.5" x2="439" y2="527.5" stroke="#000" stroke-width="1" stroke-linecap="butt"/>
<polygon points="439,527.5 429,525.6 429,529.4" fill="#000"/>
<line x1="440.5" y1="514" x2="440.5" y2="539" stroke="#000" stroke-width="1" stroke-linecap="butt"/>
<path d="M377,460.5 L388.5,460.5 L388.5,516.5 L377,516.5 Q376,500 375.8,488 Q376,472 377,460.5" fill="none" stroke="#000" stroke-width="1" />
<line x1="388" y1="465.5" x2="493" y2="465.5" stroke="#000" stroke-width="1" stroke-linecap="butt"/>
<line x1="388" y1="511.5" x2="493" y2="511.5" stroke="#000" stroke-width="1" stroke-linecap="butt"/>
<line x1="388.5" y1="465" x2="388.5" y2="512" stroke="#000" stroke-width="1" stroke-linecap="butt"/>
<line x1="492.5" y1="466" x2="492.5" y2="511" stroke="#888" stroke-width="1" stroke-linecap="butt"/>
<line x1="389" y1="466.5" x2="492" y2="466.5" stroke="#999" stroke-width="1" stroke-linecap="butt"/>
<line x1="494.5" y1="466" x2="494.5" y2="509" stroke="#000" stroke-width="1" stroke-linecap="butt"/>
<line x1="401" y1="459.5" x2="480" y2="459.5" stroke="#000" stroke-width="1" stroke-linecap="butt"/>
<line x1="401.5" y1="459" x2="401.5" y2="465" stroke="#000" stroke-width="1" stroke-linecap="butt"/>
<line x1="479.5" y1="459" x2="479.5" y2="465" stroke="#000" stroke-width="1" stroke-linecap="butt"/>
<line x1="495.5" y1="418" x2="495.5" y2="559" stroke="#000" stroke-width="1" stroke-linecap="butt"/>
<path d="M458,477.5 L492.5,477.5 L492.5,499 L455,499 L451.5,495.5 L451.5,483 Z" fill="url(#hT2)"/>
<path d="M459,477.5 L457.5,477.5 L451.5,483 L451.5,495.5 L455,499 L458,499" fill="none" stroke="#000" stroke-width="1" />
<rect x="461" y="482" width="32" height="13" fill="#fff"/>
<rect x="462.5" y="483.5" width="30" height="10" fill="#fff" stroke="#000"/>
<line x1="365" y1="488.5" x2="398" y2="488.5" stroke="#000" stroke-width="1" stroke-linecap="butt"/>
<line x1="403" y1="488.5" x2="417" y2="488.5" stroke="#000" stroke-width="1" stroke-linecap="butt"/>
<line x1="422" y1="488.5" x2="482" y2="488.5" stroke="#000" stroke-width="1" stroke-linecap="butt"/>
<line x1="488" y1="488.5" x2="501" y2="488.5" stroke="#000" stroke-width="1" stroke-linecap="butt"/>
<line x1="462.5" y1="447" x2="462.5" y2="484" stroke="#000" stroke-width="1" stroke-linecap="butt"/>
<line x1="463" y1="448.5" x2="495" y2="448.5" stroke="#000" stroke-width="1" stroke-linecap="butt"/>
<polygon points="463,448.5 473,446.6 473,450.4" fill="#000"/>
<polygon points="495,448.5 485,446.6 485,450.4" fill="#000"/>
<text transform="translate(473.42,445.3) scale(1.000,1)" font-size="11.00">50</text>
<line x1="388.5" y1="517" x2="388.5" y2="559" stroke="#000" stroke-width="1" stroke-linecap="butt"/>
<line x1="389" y1="554.5" x2="495" y2="554.5" stroke="#000" stroke-width="1" stroke-linecap="butt"/>
<polygon points="389,554.5 399,552.6 399,556.4" fill="#000"/>
<polygon points="495,554.5 485,552.6 485,556.4" fill="#000"/>
<text transform="translate(432.62,550.5) scale(1.000,1)" font-size="11.00">140</text>
<line x1="496" y1="465.5" x2="523" y2="465.5" stroke="#000" stroke-width="1" stroke-linecap="butt"/>
<line x1="496" y1="510.5" x2="523" y2="510.5" stroke="#000" stroke-width="1" stroke-linecap="butt"/>
<line x1="496" y1="482.5" x2="508" y2="482.5" stroke="#000" stroke-width="1" stroke-linecap="butt"/>
<line x1="496" y1="496.5" x2="508" y2="496.5" stroke="#000" stroke-width="1" stroke-linecap="butt"/>
<line x1="503.5" y1="444" x2="503.5" y2="511" stroke="#000" stroke-width="1" stroke-linecap="butt"/>
<polygon points="503.5,483 501.6,473 505.4,473" fill="#000"/>
<polygon points="503.5,496 501.6,506 505.4,506" fill="#000"/>
<text transform="translate(513.4,461.12) rotate(-90) scale(1.000,1)" font-size="11.00">M24</text>
<line x1="518.5" y1="466" x2="518.5" y2="510" stroke="#000" stroke-width="1" stroke-linecap="butt"/>
<polygon points="518.5,466 516.6,476 520.4,476" fill="#000"/>
<polygon points="518.5,510 516.6,500 520.4,500" fill="#000"/>
<text transform="translate(516.3,497.11) rotate(-90)" font-size="14">ø</text>
<text transform="translate(515,488.87) rotate(-90)" font-size="11">70</text>
<text transform="translate(578.78,422.8) scale(0.831,1)" font-size="16.81">В–В</text>
<line x1="578" y1="426.5" x2="607" y2="426.5" stroke="#000" stroke-width="1" stroke-linecap="butt"/>
<g clip-path="url(#cC)"><rect x="568" y="466" width="46" height="46" fill="url(#hC5)"/></g>
<circle cx="591" cy="488.6" r="20.7" fill="none" stroke="#000" stroke-width="1"/>
<rect x="583.5" y="464.5" width="16.0" height="10.5" fill="url(#hK)"/>
<rect x="583.5" y="464.5" width="16" height="10" fill="none" stroke="#000" stroke-width="1"/>
<line x1="583.5" y1="443" x2="583.5" y2="464" stroke="#000" stroke-width="1" stroke-linecap="butt"/>
<line x1="598.5" y1="443" x2="598.5" y2="464" stroke="#000" stroke-width="1" stroke-linecap="butt"/>
<line x1="557" y1="447.5" x2="617" y2="447.5" stroke="#000" stroke-width="1" stroke-linecap="butt"/>
<polygon points="583,447.5 573,445.6 573,449.4" fill="#000"/>
<polygon points="599,447.5 609,445.6 609,449.4" fill="#000"/>
<text transform="translate(559.56,444) scale(1.000,1)" font-size="11.00">20</text>
<line x1="554" y1="464.5" x2="583" y2="464.5" stroke="#000" stroke-width="1" stroke-linecap="butt"/>
<line x1="554" y1="475.5" x2="583" y2="475.5" stroke="#000" stroke-width="1" stroke-linecap="butt"/>
<line x1="559.5" y1="449" x2="559.5" y2="464" stroke="#000" stroke-width="1" stroke-linecap="butt"/>
<polygon points="559.5,464 557.6,454 561.4,454" fill="#000"/>
<line x1="559.5" y1="476" x2="559.5" y2="505" stroke="#000" stroke-width="1" stroke-linecap="butt"/>
<polygon points="559.5,476 557.6,486 561.4,486" fill="#000"/>
<text transform="translate(557.7,501.64) rotate(-90) scale(1.000,1)" font-size="11.00">12</text>
<line x1="600" y1="464.5" x2="638" y2="464.5" stroke="#000" stroke-width="1" stroke-linecap="butt"/>
<line x1="591" y1="509.5" x2="638" y2="509.5" stroke="#000" stroke-width="1" stroke-linecap="butt"/>
<line x1="630.5" y1="465" x2="630.5" y2="510" stroke="#000" stroke-width="1" stroke-linecap="butt"/>
<polygon points="630.5,465 628.6,475 632.4,475" fill="#000"/>
<polygon points="630.5,510 628.6,500 632.4,500" fill="#000"/>
<text transform="translate(627.7,497.1) rotate(-90) scale(1.000,1)" font-size="11.00">74,5</text>
<line x1="591.5" y1="459" x2="591.5" y2="516" stroke="#000" stroke-width="1" stroke-linecap="butt"/>
<line x1="566" y1="488.5" x2="616" y2="488.5" stroke="#000" stroke-width="1" stroke-linecap="butt"/>
</svg></body></html>
